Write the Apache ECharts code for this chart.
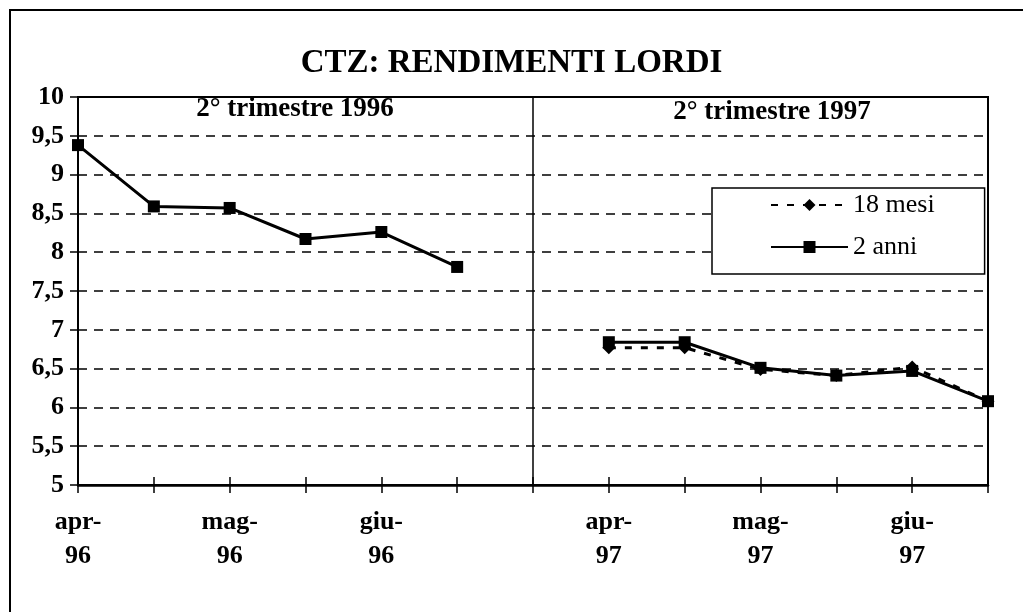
<!DOCTYPE html>
<html>
<head>
<meta charset="utf-8">
<script src="https://cdn.jsdelivr.net/npm/echarts@6/dist/echarts.min.js"></script>
<style>
  html, body { margin: 0; padding: 0; background: #fff; }
  #chart { width: 1023px; height: 612px; }
</style>
</head>
<body>
<div id="chart"></div>
<script>
// CTZ: rendimenti lordi, 2° trimestre 1996 e 1997
var mesi = ['apr-\n96', '', 'mag-\n96', '', 'giu-\n96', '', '', 'apr-\n97', '', 'mag-\n97', '', 'giu-\n97', ''];
var anni2 = [9.38, 8.59, 8.57, 8.17, 8.26, 7.81, null, 6.84, 6.84, 6.51, 6.41, 6.47, 6.08];
var mesi18 = [null, null, null, null, null, null, null, 6.77, 6.77, 6.49, 6.41, 6.52, 6.08];
var seriesNames = ['18 mesi', '2 anni'];
var panelLabels = ['2° trimestre 1996', '2° trimestre 1997'];
var divider = 6; // indice della linea che separa i due trimestri

var font = 'Liberation Serif, Times New Roman, serif';
var chart = echarts.init(document.getElementById('chart'));

var option = {
	backgroundColor: '#fff',
	animation: false,
	title: {
		text: 'CTZ: RENDIMENTI LORDI',
		left: 'center',
		top: 42,
		textStyle: { fontFamily: font, fontWeight: 'bold', fontSize: 33, color: '#000' }
	},
	graphic: [
		{ type: 'rect', shape: { x: 10, y: 10, width: 1030, height: 620 }, style: { fill: 'none', stroke: '#000', lineWidth: 2 } },
		{ type: 'text', x: 295, y: 109, style: { text: panelLabels[0], font: 'bold 27px ' + font, fill: '#000', textAlign: 'center', textVerticalAlign: 'middle' } },
		{ type: 'text', x: 772, y: 112, style: { text: panelLabels[1], font: 'bold 27px ' + font, fill: '#000', textAlign: 'center', textVerticalAlign: 'middle' } }
	],
	legend: {
		orient: 'vertical',
		left: 712,
		top: 188,
		data: seriesNames,
		itemWidth: 77,
		itemHeight: 15,
		itemGap: 16,
		padding: [4, 50, 14, 58],
		backgroundColor: '#fff',
		borderColor: '#000',
		borderWidth: 1.5,
		textStyle: { fontFamily: font, fontSize: 26, color: '#000', lineHeight: 26 }
	},
	grid: {
		left: 78,
		right: 35,
		top: 97,
		bottom: 127,
		show: true,
		borderColor: '#000',
		borderWidth: 2
	},
	xAxis: [{
		type: 'category',
		data: mesi,
		boundaryGap: false,
		axisLine: { lineStyle: { color: '#000', width: 2.5 } },
		axisTick: { show: true, interval: 0, length: 8, lineStyle: { color: '#000', width: 1.5 } },
		axisLabel: {
			interval: 0,
			margin: 20,
			fontFamily: font,
			fontWeight: 'bold',
			fontSize: 26,
			lineHeight: 34,
			color: '#000'
		},
		splitLine: { show: false }
	}, {
		type: 'category',
		data: mesi,
		boundaryGap: false,
		position: 'bottom',
		axisLine: { show: false },
		axisTick: { show: true, inside: true, interval: 0, length: 8, lineStyle: { color: '#000', width: 1.5 } },
		axisLabel: { show: false },
		splitLine: { show: false }
	}],
	yAxis: {
		type: 'value',
		min: 5,
		max: 10,
		interval: 0.5,
		axisLine: { show: true, lineStyle: { color: '#000', width: 2 } },
		axisTick: { show: true, length: 8, lineStyle: { color: '#000', width: 1.5 } },
		axisLabel: {
			margin: 14,
			fontFamily: font,
			fontWeight: 'bold',
			fontSize: 26,
			color: '#000',
			formatter: function (v) { return String(v).replace('.', ','); }
		},
		splitLine: { show: true, lineStyle: { color: '#000', width: 1.5, type: [9, 7] } }
	},
	series: [{
		name: seriesNames[0],
		type: 'line',
		data: mesi18,
		symbol: 'diamond',
		symbolSize: 13,
		connectNulls: false,
		itemStyle: { color: '#000' },
		lineStyle: { color: '#000', width: 3, type: [7, 9] },
		z: 3
	}, {
		name: seriesNames[1],
		type: 'line',
		data: anni2,
		symbol: 'rect',
		symbolSize: 12,
		connectNulls: false,
		itemStyle: { color: '#000' },
		lineStyle: { color: '#000', width: 3 },
		z: 4,
		markLine: {
			silent: true,
			symbol: 'none',
			label: { show: false },
			lineStyle: { color: '#000', width: 1.5, type: 'solid' },
			data: [{ xAxis: divider }]
		}
	}]
};
chart.setOption(option);
</script>
</body>
</html>
